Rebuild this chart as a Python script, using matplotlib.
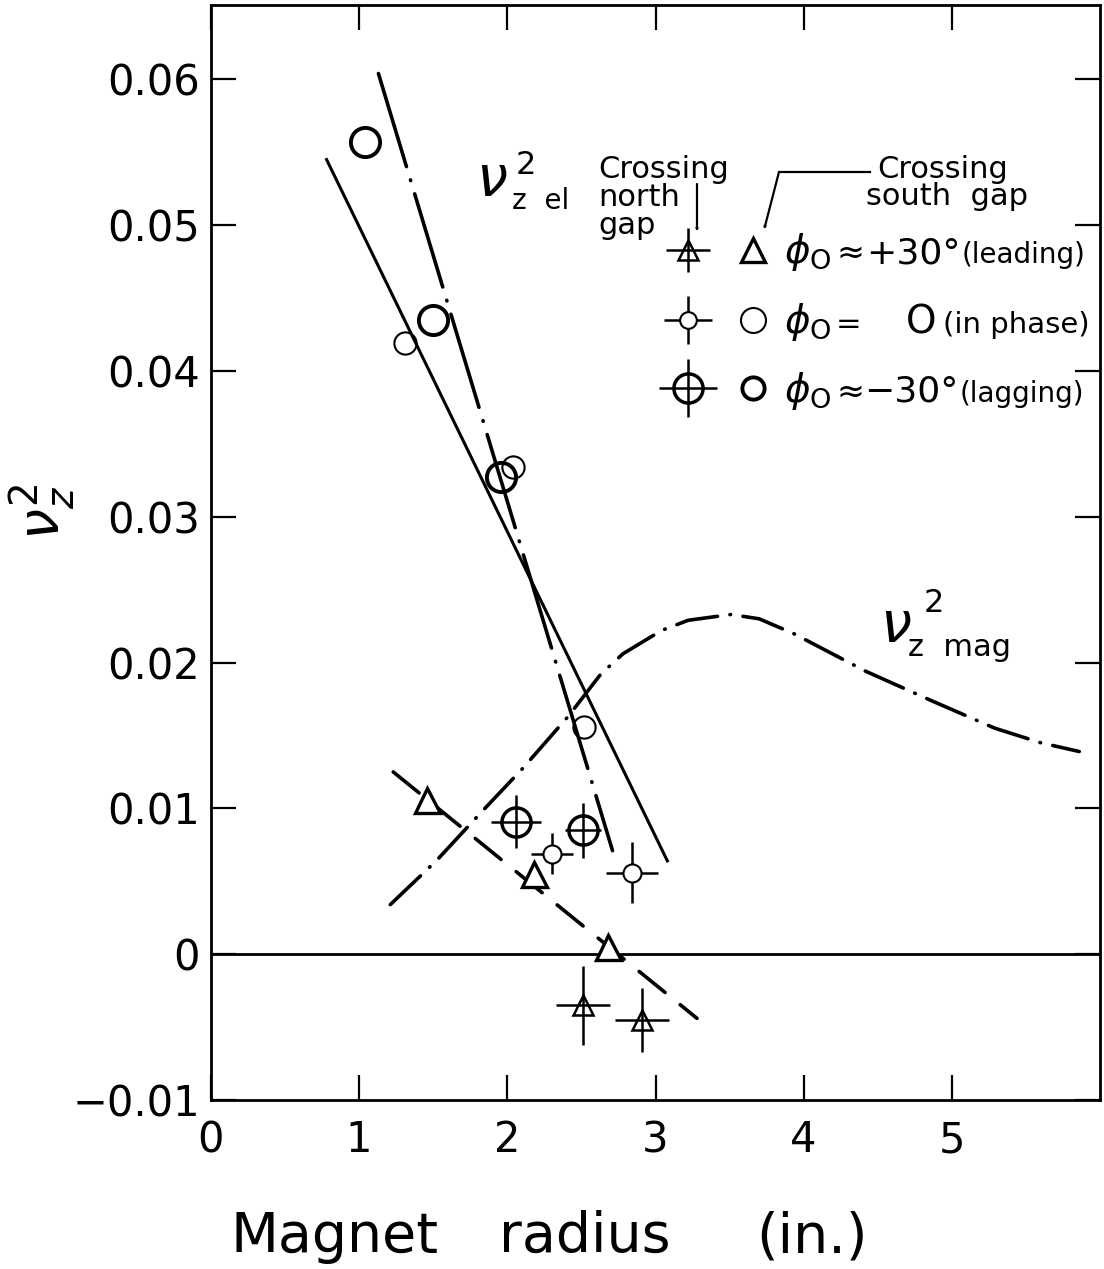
import matplotlib
matplotlib.use('Agg')
import matplotlib.pyplot as plt

plt.rcParams['font.family'] = ['DejaVu Sans']
plt.rcParams['mathtext.fontset'] = 'dejavusans'
plt.rcParams['lines.scale_dashes'] = False

# ---------------- data ----------------
x_ticks = [0, 1, 2, 3, 4, 5]
x_ticklabels = ['0', '1', '2', '3', '4', '5']
y_ticks = [-0.01, 0.0, 0.01, 0.02, 0.03, 0.04, 0.05, 0.06]
y_ticklabels = ['\u22120.01', '0', '0.01', '0.02', '0.03', '0.04', '0.05', '0.06']
zero_level = 0.0

# South gap crossings (open symbols)
south_lead_x = [1.46, 2.18, 2.68]
south_lead_y = [0.0106, 0.0055, 0.0005]
south_phase_x = [1.31, 2.04, 2.52]
south_phase_y = [0.0419, 0.0334, 0.0156]
south_lag_x = [1.04, 1.50, 1.96]
south_lag_y = [0.0557, 0.0435, 0.0327]

# North gap crossings (symbols with error crosses)
north_lead_x = [2.51, 2.91]
north_lead_y = [-0.0035, -0.0045]
north_lead_xerr = [0.18, 0.18]
north_lead_yerr = [0.0027, 0.0022]
north_phase_x = [2.30, 2.84]
north_phase_y = [0.0069, 0.0056]
north_phase_xerr = [0.14, 0.175]
north_phase_yerr = [0.0014, 0.0021]
north_lag_x = [2.06, 2.51]
north_lag_y = [0.0091, 0.0085]
north_lag_xerr = [0.17, 0.12]
north_lag_yerr = [0.0018, 0.0019]

# Drawn lines
solid_fit_x = [0.78, 3.08]
solid_fit_y = [0.0545, 0.0064]
dashdot_fit_x = [1.13, 2.71]
dashdot_fit_y = [0.0604, 0.0071]
dashed_fit_x = [1.23, 3.28]
dashed_fit_y = [0.0125, -0.0044]

# nu_z^2 magnetic curve
mag_x = [1.21, 1.52, 1.83, 2.10, 2.41, 2.63, 2.78, 3.04, 3.22, 3.51, 3.70, 3.93,
         4.42, 4.86, 5.29, 5.60, 5.86]
mag_y = [0.0034, 0.0064, 0.0098, 0.0127, 0.0163, 0.0192, 0.0206, 0.0222, 0.0229, 0.0233,
         0.0230, 0.0220, 0.0194, 0.0174, 0.0155, 0.0145, 0.0139]

# ---------------- figure ----------------
W, H = 1104, 1269
fig = plt.figure(figsize=(W / 100, H / 100), dpi=100)
AX_L, AX_R, AX_T, AX_B = 211, 1100, 5, 1100
ax = fig.add_axes([AX_L / W, 1 - AX_B / H, (AX_R - AX_L) / W, (AX_B - AX_T) / H])
ax.set_xlim(0, 6)
ax.set_ylim(-0.01, 0.0651)


def fx(X):
    return X / W


def fy(Y):
    return 1 - Y / H


def axx(X):
    return (X - AX_L) / (AX_R - AX_L)


def axy(Y):
    return (AX_B - Y) / (AX_B - AX_T)


for s in ax.spines.values():
    s.set_linewidth(2.0)

ax.set_xticks(x_ticks)
ax.set_xticklabels(x_ticklabels)
ax.set_yticks(y_ticks)
ax.set_yticklabels(y_ticklabels)
ax.tick_params(axis='both', direction='in', length=18, width=1.6, labelsize=30,
               top=True, right=True)
ax.tick_params(axis='x', pad=14)
ax.tick_params(axis='y', pad=8)

# zero line
ax.axhline(zero_level, color='black', lw=2.0, zorder=1)

# fitted lines
ax.plot(solid_fit_x, solid_fit_y, color='black', lw=2.2, zorder=2)
ax.plot(dashdot_fit_x, dashdot_fit_y, color='black', lw=2.6,
        linestyle=(0, (70, 10, 0.5, 10)), dash_capstyle='round', zorder=2)
ax.plot(dashed_fit_x, dashed_fit_y, color='black', lw=2.6,
        linestyle=(0, (24, 14)), dash_capstyle='round', zorder=2)
ax.plot(mag_x, mag_y, color='black', lw=2.6,
        linestyle=(0, (30, 9, 0.5, 9)), dash_capstyle='round', zorder=2)

# south gap symbols
ax.plot(south_lead_x, south_lead_y, linestyle='none', marker='^', ms=18,
        mfc='white', mec='black', mew=2.4, zorder=4)
ax.plot(south_phase_x, south_phase_y, linestyle='none', marker='o', ms=16,
        mfc='none', mec='black', mew=1.5, zorder=4)
ax.plot(south_lag_x, south_lag_y, linestyle='none', marker='o', ms=21,
        mfc='none', mec='black', mew=2.8, zorder=4)

# north gap symbols with error crosses
ax.errorbar(north_lead_x, north_lead_y, xerr=north_lead_xerr, yerr=north_lead_yerr,
            fmt='^', ms=15, mfc='none', mec='black', mew=1.8, ecolor='black',
            elinewidth=1.8, capsize=0, zorder=4)
ax.errorbar(north_phase_x, north_phase_y, xerr=north_phase_xerr, yerr=north_phase_yerr,
            fmt='o', ms=13, mfc='white', mec='black', mew=1.5, ecolor='black',
            elinewidth=1.8, capsize=0, zorder=4)
ax.errorbar(north_lag_x, north_lag_y, xerr=north_lag_xerr, yerr=north_lag_yerr,
            fmt='o', ms=21, mfc='none', mec='black', mew=2.5, ecolor='black',
            elinewidth=1.8, capsize=0, zorder=4)

# ---------------- legend block ----------------
tr = ax.transAxes
rows_Y = [250, 320, 388]
XN, XS = 688, 753
# north-gap keys
ax.plot([axx(XN)], [axy(rows_Y[0])], marker='+', ms=32, mew=1.8, color='black',
        transform=tr, clip_on=False)
ax.plot([axx(XN)], [axy(rows_Y[0])], marker='^', ms=14, mfc='none', mec='black',
        mew=1.8, transform=tr, clip_on=False)
ax.plot([axx(XN)], [axy(rows_Y[1])], marker='+', ms=34, mew=1.8, color='black',
        transform=tr, clip_on=False)
ax.plot([axx(XN)], [axy(rows_Y[1])], marker='o', ms=12, mfc='white', mec='black',
        mew=1.5, transform=tr, clip_on=False)
ax.plot([axx(XN)], [axy(rows_Y[2])], marker='+', ms=42, mew=1.8, color='black',
        transform=tr, clip_on=False)
ax.plot([axx(XN)], [axy(rows_Y[2])], marker='o', ms=21, mfc='none', mec='black',
        mew=2.5, transform=tr, clip_on=False)
# south-gap keys
ax.plot([axx(XS)], [axy(rows_Y[0])], marker='^', ms=17, mfc='white', mec='black',
        mew=2.4, transform=tr, clip_on=False)
ax.plot([axx(XS)], [axy(rows_Y[1])], marker='o', ms=18, mfc='none', mec='black',
        mew=1.5, transform=tr, clip_on=False)
ax.plot([axx(XS)], [axy(rows_Y[2])], marker='o', ms=16, mfc='none', mec='black',
        mew=2.8, transform=tr, clip_on=False)

# row texts
base = [263, 333, 402]
phi = r'$\phi_{\rm O}$'
for b in base:
    fig.text(fx(784), fy(b), phi, fontsize=28, va='baseline', ha='left')
fig.text(fx(836), fy(base[0]), '\u2248', fontsize=24, va='baseline', ha='left')
fig.text(fx(866), fy(base[0]), '+30\u00b0', fontsize=26, va='baseline', ha='left')
fig.text(fx(962), fy(base[0]), '(leading)', fontsize=20, va='baseline', ha='left')
fig.text(fx(836), fy(base[1]), '=', fontsize=22, va='baseline', ha='left')
fig.text(fx(906), fy(base[1]), 'O', fontsize=28, va='baseline', ha='left')
fig.text(fx(943), fy(base[1]), '(in phase)', fontsize=21, va='baseline', ha='left')
fig.text(fx(836), fy(base[2]), '\u2248', fontsize=24, va='baseline', ha='left')
fig.text(fx(864), fy(base[2]), '\u221230\u00b0', fontsize=26, va='baseline', ha='left')
fig.text(fx(960), fy(base[2]), '(lagging)', fontsize=20, va='baseline', ha='left')

# "Crossing north gap" / "Crossing south gap"
fig.text(fx(598), fy(178), 'Crossing', fontsize=22, va='baseline', ha='left')
fig.text(fx(598), fy(206), 'north', fontsize=22, va='baseline', ha='left')
fig.text(fx(598), fy(234), 'gap', fontsize=22, va='baseline', ha='left')
fig.text(fx(877), fy(178), 'Crossing', fontsize=22, va='baseline', ha='left')
fig.text(fx(866), fy(205), 'south  gap', fontsize=22, va='baseline', ha='left')

arrow_kw = dict(arrowstyle='-|>,head_length=0.9,head_width=0.35', fc='white',
                ec='black', lw=1.6, shrinkA=0, shrinkB=0)
fig.add_artist(matplotlib.patches.FancyArrowPatch((fx(697), fy(184)), (fx(697), fy(232)),
                                                  transform=fig.transFigure, **arrow_kw))
fig.add_artist(matplotlib.lines.Line2D([fx(870), fx(779)], [fy(172), fy(172)],
                                       transform=fig.transFigure, color='black', lw=1.6))
fig.add_artist(matplotlib.patches.FancyArrowPatch((fx(779), fy(172)), (fx(764), fy(230)),
                                                  transform=fig.transFigure, **arrow_kw))

# nu_z el label
fig.text(fx(476), fy(196), r'$\nu$', fontsize=40, va='baseline', ha='left')
fig.text(fx(516), fy(174), '2', fontsize=23, va='baseline', ha='left')
fig.text(fx(512), fy(209), 'z  el', fontsize=20, va='baseline', ha='left')

# nu_z mag label
fig.text(fx(880), fy(642), r'$\nu$', fontsize=40, va='baseline', ha='left')
fig.text(fx(924), fy(612), '2', fontsize=23, va='baseline', ha='left')
fig.text(fx(908), fy(656), 'z  mag', fontsize=22, va='baseline', ha='left')

# axis labels
fig.text(fx(335), fy(1237), 'Magnet', fontsize=40, va='center', ha='center')
fig.text(fx(585), fy(1237), 'radius', fontsize=40, va='center', ha='center')
fig.text(fx(812), fy(1237), '(in.)', fontsize=40, va='center', ha='center')
fig.text(fx(42), fy(512), r'$\nu_z^2$', fontsize=40, va='center', ha='center', rotation=90)

fig.savefig('out.png', dpi=100)
